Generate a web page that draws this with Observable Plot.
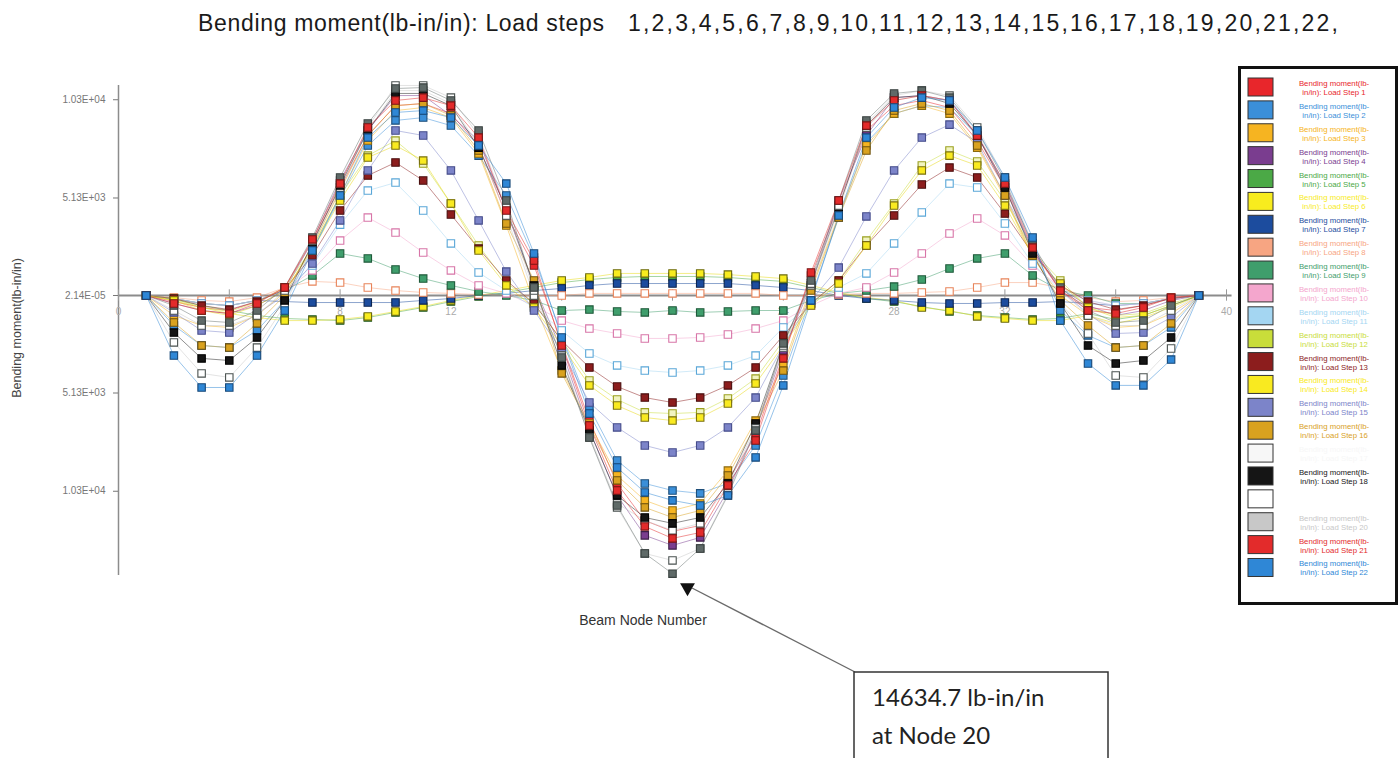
<!DOCTYPE html>
<html><head><meta charset="utf-8">
<script src="https://cdn.jsdelivr.net/npm/d3@7"></script>
<script src="https://cdn.jsdelivr.net/npm/@observablehq/plot@0.6"></script>
<style>
body{margin:0;background:#fff;}
#wrap{position:relative;width:1400px;height:758px;overflow:hidden;font-family:"Liberation Sans",Arial,sans-serif;}
#wrap svg.overlay{position:absolute;left:0;top:0;pointer-events:none;}
#plot{position:absolute;left:0;top:0;}
</style></head><body><div id="wrap"><div id="plot"></div></div>
<script>
// ---- data ----
const nodes = [1,2,3,4,5,6,7,8,9,10,11,12,13,14,15,16,17,18,19,20,21,22,23,24,25,26,27,28,29,30,31,32,33,34,35,36,37,38,39];
const stepLabels = [1,2,3,4,5,6,7,8,9,10,11,12,13,14,15,16,17,18,19,20,21,22];
const ls1  = [0,-320,-630,-790,-320,420,2840,5680,8420,9990,10100,9570,7890,4210,1580,-2520,-6580,-9890,-11840,-12410,-12100,-9730,-7360,-3160,1050,4730,8680,9990,10260,9890,8150,5680,2370,260,-630,-790,-530,-110,0];
const ls2  = [0,-1580,-2630,-2740,-1840,-260,2370,5150,7890,9210,9360,8940,7360,5260,2000,-2100,-5890,-8680,-9890,-10260,-10410,-9890,-7890,-4210,-110,4100,8050,9570,9990,9890,8420,5890,2740,-790,-2100,-2740,-2630,-1680,0];
const ls3  = [0,-1050,-1580,-1680,-1050,160,2520,5260,8150,9730,9890,9360,7470,3680,-370,-3950,-6730,-9470,-10780,-11310,-10940,-9210,-6580,-3680,420,4210,7890,9570,9990,9570,7780,5150,2000,0,-1050,-1680,-1580,-950,0];
const ls4  = [0,-420,-790,-950,-530,260,2890,6050,8680,10520,10520,9470,8150,4470,530,-2890,-7100,-10520,-12620,-13150,-12730,-10260,-7100,-2890,530,5000,8420,10410,10520,10260,8420,5790,2370,370,-530,-1050,-790,-260,0];
const ls5  = [0,-210,-530,-790,-1050,-1210,-1260,-1320,-1160,-890,-630,-320,-50,160,420,680,840,950,1000,1000,1000,950,840,740,420,110,-160,-320,-580,-840,-1050,-1160,-1260,-1210,-950,-1260,-1050,-530,0];
const ls6  = [0,-260,-630,-950,-1160,-1320,-1320,-1260,-1100,-840,-580,-260,0,260,530,790,950,1160,1160,1160,1160,1100,1000,890,530,160,-110,-260,-630,-790,-1100,-1210,-1320,-1320,-1050,-1470,-1160,-630,0];
const ls7  = [0,-160,-420,-530,-260,-320,-370,-370,-370,-370,-260,-160,0,110,260,370,530,630,630,630,630,630,530,420,260,0,-160,-260,-370,-420,-420,-370,-370,-320,-420,-530,-420,-160,0];
const ls8  = [0,-110,-260,-320,-110,420,740,680,420,260,160,110,50,50,0,0,110,110,110,110,110,110,110,0,0,50,110,110,160,210,420,680,680,420,-110,-320,-260,-110,0];
const ls9  = [0,-160,-420,-530,-260,260,1050,2210,1950,1370,890,530,210,0,-260,-790,-740,-840,-890,-790,-890,-840,-790,-790,-260,110,260,470,840,1420,1950,2210,1050,260,0,-420,-420,-160,0];
const ls10 = [0,-160,-420,-530,-260,260,1320,2890,4100,3310,2260,1320,530,110,-530,-1320,-1740,-2000,-2260,-2260,-2210,-2050,-1740,-1320,-530,110,420,1210,2210,3260,4050,3160,1580,420,-260,-530,-420,-160,0];
const ls11 = [0,-160,-420,-530,-260,260,1580,3730,5520,5940,4470,2740,1210,260,-630,-1840,-3050,-3680,-3950,-4050,-3950,-3680,-3160,-1680,-420,420,1160,2740,4370,5890,5680,3790,1680,260,-260,-530,-420,-160,0];
const ls12 = [0,-160,-630,-840,-370,420,2520,5260,7360,8150,6940,4840,2630,680,-420,-2370,-4470,-5470,-6150,-6210,-6150,-5420,-4370,-2370,-420,790,2890,4840,6840,7630,7050,5000,2370,790,-630,-1050,-950,-420,0];
const ls13 = [0,-160,-530,-740,-320,320,2100,4470,6310,7000,6050,4260,2470,790,-420,-2370,-3790,-4790,-5370,-5630,-5370,-4730,-3790,-2100,-420,790,2630,4210,5840,6730,6210,4310,2210,530,-320,-740,-530,-160,0];
const ls14 = [0,-260,-790,-1050,-530,260,2370,5000,7260,7890,7100,4840,2370,530,-630,-2630,-4730,-5790,-6420,-6580,-6420,-5680,-4630,-2630,-530,630,2630,4730,6580,7360,6840,4730,2100,630,-630,-1160,-1050,-530,0];
const ls15 = [0,-890,-1840,-1950,-950,0,1680,3950,6580,8680,8420,6580,3950,1260,-790,-2890,-5630,-6940,-7890,-8260,-7890,-6940,-5370,-2630,-260,1470,4160,6580,8310,8990,8050,5260,2520,260,-950,-2000,-1950,-1160,0];
const ls16 = [0,-1420,-2630,-2740,-1470,0,2630,5520,8420,9990,10100,9470,7630,3790,790,-4100,-6840,-9730,-11150,-11680,-11310,-9470,-6840,-3950,260,4100,7630,9730,10100,9730,7890,5260,2100,-260,-1580,-2740,-2630,-1470,0];
const ls17 = [0,-2470,-4100,-4310,-2740,-530,2630,5680,8680,10780,10780,10100,7890,4210,0,-3160,-7360,-10940,-11840,-12360,-11990,-9990,-6940,-2740,530,4470,8840,10260,10520,10260,8570,5790,2370,-420,-2000,-4210,-4310,-2790,0];
const ls18 = [0,-1950,-3310,-3420,-2210,-260,2740,5790,8680,10630,10630,9990,7780,4580,530,-3680,-7100,-10520,-11680,-11990,-11680,-9890,-6730,-2520,630,4630,8940,10410,10520,10100,8420,5680,2210,-420,-2630,-3580,-3420,-2210,0];
const ls19 = [0,-790,-1580,-1580,-1050,260,2890,5890,8840,11050,11050,10410,8420,4630,260,-3160,-7470,-11150,-13570,-13940,-13310,-10410,-7000,-2630,630,4730,9050,10520,10780,10520,8840,6210,2740,260,-1050,-1580,-1580,-790,0];
const ls20 = [0,-530,-1320,-1420,-790,420,3050,6210,9050,10890,10940,10260,8680,5000,420,-3260,-7470,-11050,-13570,-14634.7,-13310,-10520,-7100,-2520,790,5000,9210,10630,10780,10410,8680,6050,2630,420,-790,-1420,-1320,-530,0];
const ls21 = [0,-420,-790,-950,-420,420,2950,5890,8840,10260,10410,9990,8310,4470,1840,-2630,-6840,-10260,-12150,-12780,-12470,-9990,-7630,-3310,1210,5000,8940,10260,10520,10260,8420,5890,2520,260,-790,-950,-630,-110,0];
const ls22 = [0,-3160,-4840,-4840,-3160,-790,2370,5260,8310,9630,9730,9360,7890,5890,2210,-2210,-6210,-9050,-10360,-10780,-11050,-10520,-8520,-4730,-260,4210,8310,9890,10410,10260,8680,6210,3050,-1320,-3580,-4730,-4730,-3370,0];
const allSteps = [ls1,ls2,ls3,ls4,ls5,ls6,ls7,ls8,ls9,ls10,ls11,ls12,ls13,ls14,ls15,ls16,ls17,ls18,ls19,ls20,ls21,ls22];
const yTickValues = [10300, 5130, 0.0000214, -5130, -10300];
const yTickLabels = ["1.03E+04","5.13E+03","2.14E-05","5.13E+03","1.03E+04"];
const xTickValues = [0,4,8,12,16,20,24,28,32,36,40];
const minNode = 20;
const minValue = -14634.7;
const titleHead = "Bending moment(lb-in/in): Load steps";
const titleSteps = "1,2,3,4,5,6,7,8,9,10,11,12,13,14,15,16,17,18,19,20,21,22,";

// ---- styles ----
const legendColors = ["#e8262b","#3b8fd9","#f6b421","#7a3d8f","#4ba946","#f8ec1e","#1c4c9e","#f7a582","#3f9e6c","#f4a6cd","#a4d6f2","#c9dd3a","#8c1d1d","#f9ea20","#7c84c9","#d9a21f","#f7f7f7","#151515","#ffffff","#c8c8c8","#e32b2b","#2f87d6"];
const markFill = ["#e8262b","#3b8fd9","#f6b421","#7a3d8f","#4ba946","#f8ec1e","#1c4c9e","#ffffff","#3f9e6c","#ffffff","#ffffff","#f1f4c0","#8c1d1d","#f9ea20","#7c84c9","#d9a21f","#ffffff","#151515","#ffffff","#5f6a68","#e32b2b","#2f87d6"];
const markStroke = ["#7a1a1a","#1f4f7a","#8a6a10","#3d1f48","#245a22","#6b6a10","#0d2550","#e8845a","#1f5a3a","#d875a8","#5aa7d8","#9aa020","#4a0f0f","#7a7010","#454c8a","#6e520f","#4a5250","#000000","#4a5250","#3a4240","#7a1515","#174878"];
const lineColor = ["#e8262b","#3b8fd9","#f6b421","#7a3d8f","#4ba946","#e8dc10","#1c4c9e","#f7a582","#3f9e6c","#f4a6cd","#a4d6f2","#c9dd3a","#8c1d1d","#e8d810","#7c84c9","#d9a21f","#c8c8c8","#222222","#c8c8c8","#6a7472","#e32b2b","#2f87d6"];

const rows = [];
allSteps.forEach((arr, s) => arr.forEach((v, i) => rows.push({
  step: stepLabels[s], node: nodes[i], value: v,
  fill: markFill[s], stroke: markStroke[s], line: lineColor[s]
})));

const chart = Plot.plot({
  width: 1400, height: 758,
  marginLeft: 118, marginRight: 174, marginTop: 85, marginBottom: 183,
  x: {domain: [0, 40], axis: null},
  y: {domain: [-14732, 11049], axis: null, label: null},
  color: {type: "identity"},
  style: {background: "transparent", overflow: "visible", fontFamily: "Liberation Sans, Arial, sans-serif"},
  marks: [
    Plot.ruleX([0], {stroke: "#8c8c8c", strokeWidth: 1.5}),
    Plot.ruleY([0], {x1: 0, x2: 40.2, stroke: "#8c8c8c", strokeWidth: 2}),
    Plot.ruleX(xTickValues, {x: d => d, y1: -300, y2: 300, stroke: "#999"}),
    Plot.text(xTickValues, {x: d => d, y: 0, dy: 16, text: d => String(d), fill: "#aaa", fontSize: 10}),
    Plot.axisY(yTickValues, {anchor: "left", label: null, tickFormat: d => yTickLabels[yTickValues.indexOf(d)], tickSize: 5, tickPadding: 8, fontSize: 10, color: "#777"}),
    Plot.line(rows, {x: "node", y: "value", z: "step", stroke: "line", strokeWidth: 1, strokeOpacity: 0.5}),
    Plot.dot(rows, {x: "node", y: "value", symbol: "square", r: 4.2, fill: "fill", stroke: "stroke", strokeWidth: 1.1}),
    Plot.dot([{node: minNode, value: minValue}], {x: "node", y: "value", symbol: "triangle", rotate: 180, r: 5.5, fill: "#111", dx: 15, dy: 14})
  ]
});
document.getElementById("plot").appendChild(chart);

// ---- overlay: title, axis titles, legend, annotation ----
const ov = d3.select("#wrap").append("svg").attr("class", "overlay").attr("width", 1400).attr("height", 758)
  .style("font-family", "Liberation Sans, Arial, sans-serif");

ov.append("text").attr("x", 198).attr("y", 31).attr("font-size", 23).attr("fill", "#1a1a1a")
  .attr("textLength", 406).attr("lengthAdjust", "spacing").text(titleHead);
ov.append("text").attr("x", 628).attr("y", 31).attr("font-size", 23).attr("fill", "#1a1a1a")
  .attr("textLength", 710).attr("lengthAdjust", "spacing").text(titleSteps);

ov.append("text").attr("transform", "translate(21,328) rotate(-90)").attr("text-anchor", "middle")
  .attr("font-size", 12.5).attr("fill", "#444").text("Bending moment(lb-in/in)");

ov.append("text").attr("x", 643).attr("y", 625).attr("text-anchor", "middle")
  .attr("font-size", 14).attr("fill", "#333").text("Beam Node Number");

// annotation leader + box
ov.append("line").attr("x1", 692).attr("y1", 588).attr("x2", 855).attr("y2", 672)
  .attr("stroke", "#6a6a6a").attr("stroke-width", 1.4);
ov.append("rect").attr("x", 854).attr("y", 672).attr("width", 254).attr("height", 110)
  .attr("fill", "#fff").attr("stroke", "#333").attr("stroke-width", 1.5);
ov.append("text").attr("x", 872).attr("y", 706).attr("font-size", 24).attr("fill", "#222")
  .style("font-family", "Lato, 'Open Sans', sans-serif").text(`${Math.abs(minValue)} lb-in/in`);
ov.append("text").attr("x", 872).attr("y", 744).attr("font-size", 24).attr("fill", "#222")
  .style("font-family", "Lato, 'Open Sans', sans-serif").text(`at Node ${minNode}`);

// legend
ov.append("rect").attr("x", 1239.5).attr("y", 67.5).attr("width", 157).attr("height", 536)
  .attr("fill", "#fff").attr("stroke", "#111").attr("stroke-width", 3);
stepLabels.forEach((s, i) => {
  const cy = 87 + i * 22.88;
  ov.append("rect").attr("x", 1248).attr("y", cy - 9).attr("width", 25).attr("height", 18)
    .attr("fill", legendColors[i]).attr("stroke", "#333").attr("stroke-width", 1);
  const t = ov.append("text").attr("text-anchor", "middle").attr("font-size", 7.8).attr("fill", legendColors[i]);
  t.append("tspan").attr("x", 1334).attr("y", cy - 1).text("Bending moment(lb-");
  t.append("tspan").attr("x", 1334).attr("y", cy + 8).text(`in/in): Load Step ${s}`);
});
</script>
</body></html>
